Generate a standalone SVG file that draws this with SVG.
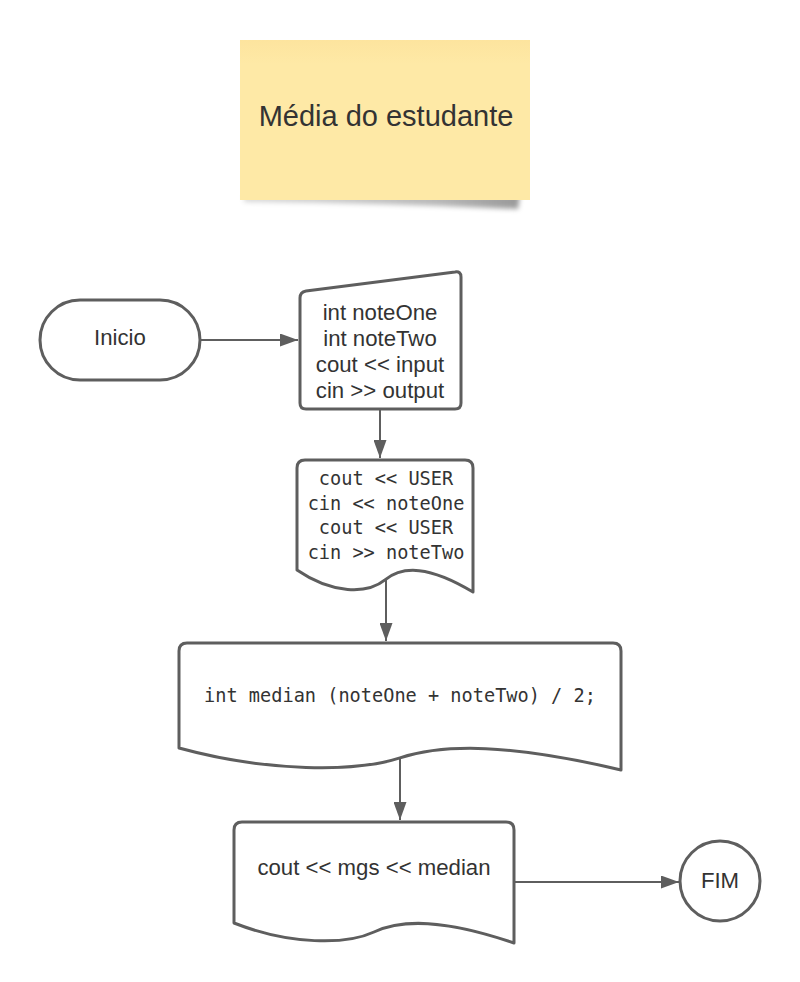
<svg xmlns="http://www.w3.org/2000/svg" width="800" height="982" viewBox="0 0 800 982">
  <defs>
    <style>
      .shape { fill: #ffffff; stroke: #5e5e5e; stroke-width: 3; stroke-linejoin: round; }
      .conn { fill: none; stroke: #5e5e5e; stroke-width: 2; }
      .sans { font-family: "Liberation Sans", Arial, sans-serif; font-size: 22.2px; fill: #333333; text-anchor: middle; }
      .mono { font-family: "DejaVu Sans Mono", "Liberation Mono", monospace; font-size: 18.6px; fill: #333333; text-anchor: middle; }
      .title { font-family: "Liberation Sans", Arial, sans-serif; font-size: 29px; fill: #333333; text-anchor: middle; }
    </style>
    <marker id="arrow" markerUnits="userSpaceOnUse" markerWidth="18" markerHeight="13" refX="18" refY="6.5" orient="auto">
      <path d="M0,0 L18,6.5 L0,13 Z" fill="#5e5e5e"/>
    </marker>
    <filter id="blur" x="-10%" y="-100%" width="120%" height="300%">
      <feGaussianBlur stdDeviation="2.5"/>
    </filter>
    <linearGradient id="sticky" x1="0" y1="0" x2="0" y2="1">
      <stop offset="0" stop-color="#fde49e"/>
      <stop offset="0.15" stop-color="#fee9a6"/>
      <stop offset="1" stop-color="#fee9a6"/>
    </linearGradient>
    <linearGradient id="shade" x1="0" y1="0" x2="1" y2="0">
      <stop offset="0" stop-color="#000000" stop-opacity="0.15"/>
      <stop offset="0.7" stop-color="#000000" stop-opacity="0.28"/>
      <stop offset="1" stop-color="#000000" stop-opacity="0.4"/>
    </linearGradient>
  </defs>

  <g id="title-note">
    <path d="M244,195 L520,195 L518,209 Q380,203 244,202 Z" fill="url(#shade)" filter="url(#blur)"/>
    <rect x="240" y="40" width="290" height="160" fill="url(#sticky)"/>
    <text class="title" x="386" y="126">Média do estudante</text>
  </g>

  <g id="connectors">
    <path class="conn" d="M201,340 L298,340" marker-end="url(#arrow)"/>
    <path class="conn" d="M380,409 L380,458" marker-end="url(#arrow)"/>
    <path class="conn" d="M386,580 L386,641" marker-end="url(#arrow)"/>
    <path class="conn" d="M400,758 L400,820" marker-end="url(#arrow)"/>
    <path class="conn" d="M514,882 L679,882" marker-end="url(#arrow)"/>
  </g>

  <g id="inicio">
    <rect class="shape" x="40" y="300" width="160" height="80" rx="40" ry="40"/>
    <text class="sans" x="120" y="345">Inicio</text>
  </g>

  <g id="manual-input">
    <path class="shape" d="M306,291 L455,272 Q461,271 461,277 L461,403 Q461,409 455,409 L306,409 Q300,409 300,403 L300,298 Q300,292 306,291 Z"/>
    <text class="sans" x="380" y="320">int noteOne</text>
    <text class="sans" x="380" y="346">int noteTwo</text>
    <text class="sans" x="380" y="372">cout &lt;&lt; input</text>
    <text class="sans" x="380" y="398">cin &gt;&gt; output</text>
  </g>

  <g id="doc-read">
    <path class="shape" d="M305,460 L465,460 Q473,460 473,468 L473,592 C429,565.6 402.6,565.6 385,579.9 C367.4,594.2 332.2,594.2 297,570 L297,468 Q297,460 305,460 Z"/>
    <text class="mono" x="386" y="485">cout &lt;&lt; USER</text>
    <text class="mono" x="386" y="509.5">cin &lt;&lt; noteOne</text>
    <text class="mono" x="386" y="534">cout &lt;&lt; USER</text>
    <text class="mono" x="386" y="558.5">cin &gt;&gt; noteTwo</text>
  </g>

  <g id="doc-median">
    <path class="shape" d="M187,643 L613,643 Q621,643 621,651 L621,770 C510.5,743.6 444.2,743.6 400,757.9 C355.8,772.2 267.4,772.2 179,748 L179,651 Q179,643 187,643 Z"/>
    <text class="mono" x="400" y="702">int median (noteOne + noteTwo) / 2;</text>
  </g>

  <g id="doc-output">
    <path class="shape" d="M242,822 L506,822 Q514,822 514,830 L514,943 C444,919 402,919 374,932 C346,945 290,945 234,923 L234,830 Q234,822 242,822 Z"/>
    <text class="sans" x="374" y="875">cout &lt;&lt; mgs &lt;&lt; median</text>
  </g>

  <g id="fim">
    <circle class="shape" cx="720" cy="881" r="40"/>
    <text class="sans" x="720" y="888">FIM</text>
  </g>
</svg>
